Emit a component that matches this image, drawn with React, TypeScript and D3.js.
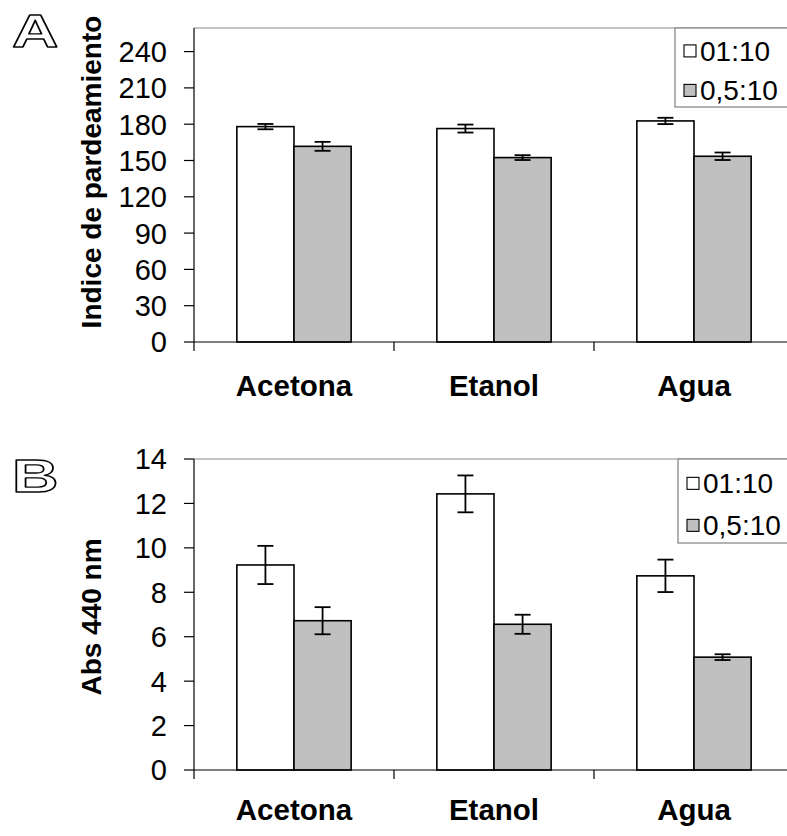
import React from 'react';
import * as d3 from 'd3';

// Extraction solvents (categories on the x axis)
const categories = ['Acetona', 'Etanol', 'Agua'];
// Sample:solvent ratios (series)
const seriesNames = ['01:10', '0,5:10'];
const seriesFills = ['#ffffff', '#c0c0c0'];

// Panel A: índice de pardeamiento
const browning0110 = [178.0, 176.4, 182.7];
const browning0110Err = [2.2, 3.3, 2.6];
const browning0510 = [161.7, 152.4, 153.5];
const browning0510Err = [3.7, 2.0, 3.1];
const browningTicks = [0, 30, 60, 90, 120, 150, 180, 210, 240];

// Panel B: absorbance at 440 nm
const abs0110 = [9.23, 12.43, 8.74];
const abs0110Err = [0.86, 0.83, 0.73];
const abs0510 = [6.72, 6.56, 5.08];
const abs0510Err = [0.61, 0.43, 0.13];
const absTicks = [0, 2, 4, 6, 8, 10, 12, 14];

const FONT = '"Liberation Sans", Arial, Helvetica, sans-serif';

type PanelProps = {
  letter: string;
  letterY: number;
  yTop: number;
  yBottom: number;
  yMax: number;
  ticks: number[];
  values: number[][];
  errors: number[][];
  title: string;
  titleY: number;
  legendTop: number;
  legendBottom: number;
  legendLeft: number;
  catBaseline: number;
};

function Panel(p: PanelProps) {
  const x0 = 194;
  const x1 = 794;
  const x = d3.scaleBand<string>().domain(categories).range([x0, x1]).padding(0);
  const xs = d3
    .scaleBand<string>()
    .domain(seriesNames)
    .range([0, x.bandwidth()])
    .paddingInner(0)
    .paddingOuter(0.75);
  const y = d3.scaleLinear().domain([0, p.yMax]).range([p.yBottom, p.yTop]);
  const capHalf = 8;
  const legendH = p.legendBottom - p.legendTop;
  const legendRows = [0.29, 0.79];

  return (
    <g>
      {/* plot area top border */}
      <line x1={x0} x2={x1} y1={p.yTop} y2={p.yTop} stroke="#8a8a8a" strokeWidth={1.2} />

      {/* bars */}
      {seriesNames.map((s, si) =>
        categories.map((c, ci) => {
          const v = p.values[si][ci];
          const bx = (x(c) as number) + (xs(s) as number);
          return (
            <rect
              key={s + c}
              x={bx}
              y={y(v)}
              width={xs.bandwidth()}
              height={y(0) - y(v)}
              fill={seriesFills[si]}
              stroke="#000"
              strokeWidth={1.6}
            />
          );
        })
      )}

      {/* error bars */}
      {seriesNames.map((s, si) =>
        categories.map((c, ci) => {
          const v = p.values[si][ci];
          const e = p.errors[si][ci];
          const cx = (x(c) as number) + (xs(s) as number) + xs.bandwidth() / 2;
          return (
            <g key={'e' + s + c} stroke="#000" strokeWidth={1.8}>
              <line x1={cx} x2={cx} y1={y(v + e)} y2={y(v - e)} />
              <line x1={cx - capHalf} x2={cx + capHalf} y1={y(v + e)} y2={y(v + e)} />
              <line x1={cx - capHalf} x2={cx + capHalf} y1={y(v - e)} y2={y(v - e)} />
            </g>
          );
        })
      )}

      {/* y axis */}
      <line x1={x0} x2={x0} y1={p.yTop} y2={p.yBottom} stroke="#000" strokeWidth={1.2} />
      {p.ticks.map((t) => (
        <g key={'t' + t}>
          <line x1={x0 - 10} x2={x0} y1={y(t)} y2={y(t)} stroke="#000" strokeWidth={1.2} />
          <text
            x={167}
            y={y(t)}
            dy="0.36em"
            textAnchor="end"
            fontFamily={FONT}
            fontSize={29}
            fill="#000"
          >
            {t}
          </text>
        </g>
      ))}

      {/* x axis */}
      <line x1={x0} x2={x1} y1={p.yBottom} y2={p.yBottom} stroke="#000" strokeWidth={1.2} />
      {[...categories.map((c) => x(c) as number), x1].map((tx, i) => (
        <line key={'xt' + i} x1={tx} x2={tx} y1={p.yBottom} y2={p.yBottom + 9} stroke="#000" strokeWidth={1.2} />
      ))}
      {categories.map((c) => (
        <text
          key={'c' + c}
          x={(x(c) as number) + x.bandwidth() / 2}
          y={p.catBaseline}
          textAnchor="middle"
          fontFamily={FONT}
          fontWeight="bold"
          fontSize={29.5}
          fill="#000"
        >
          {c}
        </text>
      ))}

      {/* y axis title */}
      <text
        transform={`translate(101,${p.titleY}) rotate(-90)`}
        textAnchor="middle"
        fontFamily={FONT}
        fontWeight="bold"
        fontSize={28}
        fill="#000"
      >
        {p.title}
      </text>

      {/* legend */}
      <rect
        x={p.legendLeft}
        y={p.legendTop}
        width={140}
        height={legendH}
        fill="#fff"
        stroke="#808080"
        strokeWidth={1.2}
      />
      {seriesNames.map((s, si) => {
        const cy = p.legendTop + legendH * legendRows[si];
        return (
          <g key={'l' + s}>
            <rect x={p.legendLeft + 9} y={cy - 6} width={12} height={12} fill={seriesFills[si]} stroke="#000" strokeWidth={1.1} />
            <text
              x={p.legendLeft + 25}
              y={cy}
              dy="0.36em"
              fontFamily={FONT}
              fontSize={28}
              fill="#000"
            >
              {s}
            </text>
          </g>
        );
      })}

      {/* panel letter */}
      <text
        transform={`translate(12,${p.letterY}) scale(1.4,1)`}
        fontFamily={FONT}
        fontWeight="bold"
        fontSize={46}
        fill="#fff"
        stroke="#000"
        strokeWidth={1.3}
        strokeLinejoin="round"
      >
        {p.letter}
      </text>
    </g>
  );
}

export default function App() {
  return (
    <svg
      width={787}
      height={836}
      viewBox="0 0 787 836"
      style={{ position: 'absolute', left: 0, top: 0, background: '#fff' }}
    >
      <rect x={0} y={0} width={787} height={836} fill="#fff" />
      <Panel
        letter="A"
        letterY={47}
        yTop={28}
        yBottom={342}
        yMax={259.5}
        ticks={browningTicks}
        values={[browning0110, browning0510]}
        errors={[browning0110Err, browning0510Err]}
        title="Indice de pardeamiento"
        titleY={172}
        legendTop={28}
        legendBottom={107}
        legendLeft={675}
        catBaseline={396}
      />
      <Panel
        letter="B"
        letterY={492}
        yTop={459}
        yBottom={770}
        yMax={14}
        ticks={absTicks}
        values={[abs0110, abs0510]}
        errors={[abs0110Err, abs0510Err]}
        title="Abs 440 nm"
        titleY={617}
        legendTop={459}
        legendBottom={543}
        legendLeft={678}
        catBaseline={820}
      />
    </svg>
  );
}
